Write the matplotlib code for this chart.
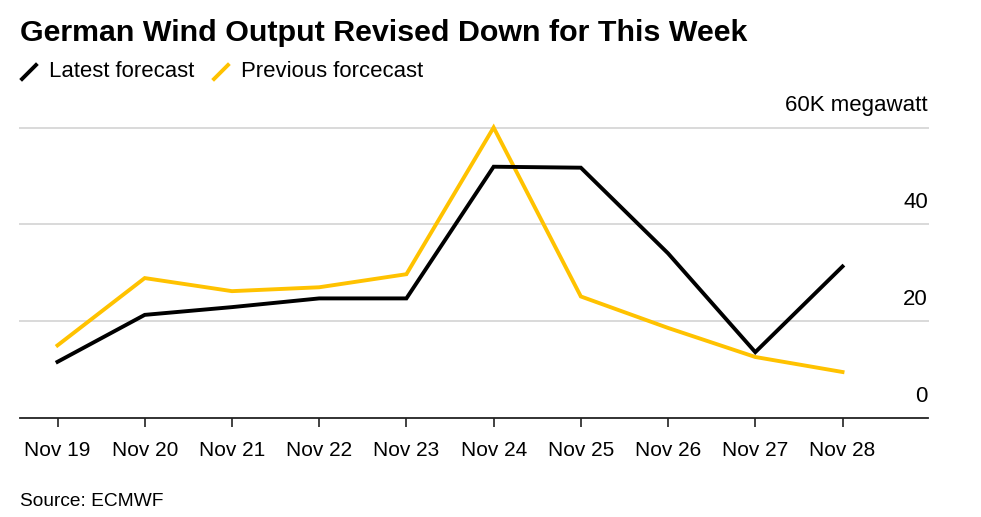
import matplotlib
matplotlib.use("Agg")
import matplotlib.pyplot as plt
import matplotlib.transforms as mtransforms
from matplotlib.lines import Line2D

plt.rcParams['font.family'] = ['Liberation Sans', 'DejaVu Sans']

days = ['Nov 19', 'Nov 20', 'Nov 21', 'Nov 22', 'Nov 23',
        'Nov 24', 'Nov 25', 'Nov 26', 'Nov 27', 'Nov 28']
latest = [11.6, 21.3, 22.9, 24.7, 24.7, 51.9, 51.7, 34.0, 13.6, 31.3]
previous = [15.0, 28.9, 26.2, 27.0, 29.7, 60.0, 25.1, 18.6, 12.6, 9.5]
yticks = [0, 20, 40, 60]
ylabels = ['0', '20', '40', '60K megawatt']

W, H = 981, 517
fig = plt.figure(figsize=(W / 100, H / 100), dpi=100)
ax = fig.add_axes([20 / W, (H - 418) / H, (928 - 20) / W, (418 - 127.5) / H])

x = list(range(len(days)))
ax.plot(x, previous, color='#FFC200', lw=2.8, solid_joinstyle='miter', clip_on=False, zorder=3)
ax.plot(x, latest, color='#000000', lw=2.8, solid_joinstyle='miter', clip_on=False, zorder=4)

ax.set_xlim(-0.43, 9.98)
ax.set_ylim(0, 60)

for s in ['top', 'right', 'left']:
    ax.spines[s].set_visible(False)
ax.spines['bottom'].set_color('#222222')
ax.spines['bottom'].set_linewidth(1.3)

ax.set_yticks([])
for v in yticks[1:]:
    ax.axhline(v, color='#d9d9d9', lw=1.4, zorder=1, clip_on=False)

trans = mtransforms.blended_transform_factory(ax.transAxes, ax.transData)
off = mtransforms.offset_copy(trans, fig=fig, x=0, y=8, units='points')
for v, lab in zip(yticks, ylabels):
    ax.text(1.0, v, lab, transform=off, ha='right', va='bottom',
            fontsize=16, color='#000000')

ax.set_xticks(x)
ax.set_xticklabels(days, fontsize=15)
ax.tick_params(axis='x', direction='out', length=6.5, width=1.2,
               color='#222222', pad=10)

fig.text(20 / W, 1 - 33 / H, 'German Wind Output Revised Down for This Week',
         fontsize=21.9, fontweight='bold', va='center', ha='left')

# legend slashes
fig.add_artist(Line2D([22 / W, 36 / W], [1 - 79 / H, 1 - 65 / H], color='#000000', lw=2.8))
fig.text(49 / W, 1 - 71 / H, 'Latest forecast', fontsize=15.9, va='center', ha='left')
fig.add_artist(Line2D([214 / W, 228 / W], [1 - 79 / H, 1 - 65 / H], color='#FFC200', lw=2.8))
fig.text(241 / W, 1 - 71 / H, 'Previous forcecast', fontsize=15.9, va='center', ha='left')

fig.text(20 / W, 1 - 502 / H, 'Source: ECMWF', fontsize=13.8, va='center', ha='left')

fig.savefig('out.png', dpi=100)
